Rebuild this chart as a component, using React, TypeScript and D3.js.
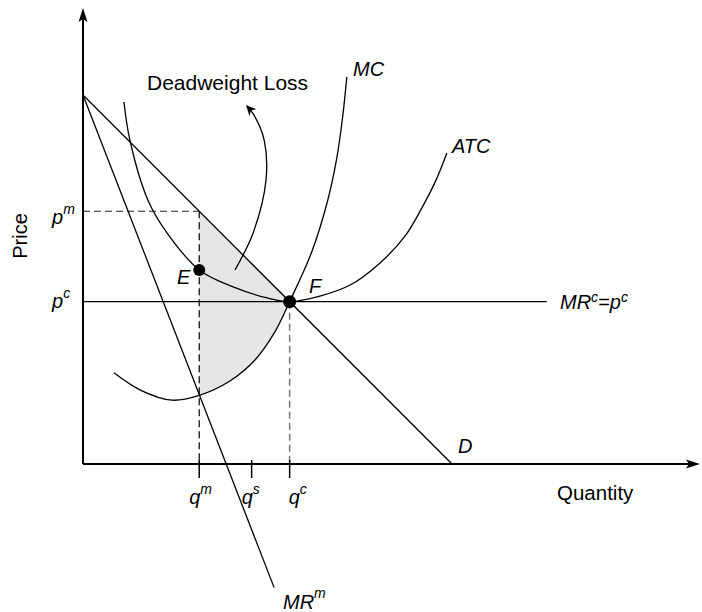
import React from 'react';
import * as d3 from 'd3';

const W = 702;
const H = 612;

// Economic quantities (model units)
const qm = 3.15;
const qs = 4.57;
const qc = 5.6;
const pm = 6.85;
const pc = 4.4;
const eP = 5.26;

const demandPts = [{ q: 0, p: 10 }, { q: 10, p: 0 }];
const mrPts = [{ q: 0, p: 10 }, { q: 5.18, p: -3.35 }];
const priceLinePts = [{ q: 0, p: pc }, { q: 12.57, p: pc }];

const mcPts = [
  { q: 0.84, p: 2.47 }, { q: 1.54, p: 2.01 }, { q: 2.41, p: 1.73 }, { q: 3.15, p: 1.86 },
  { q: 3.98, p: 2.25 }, { q: 4.66, p: 2.82 }, { q: 5.2, p: 3.58 }, { q: 5.6, p: 4.4 },
  { q: 6.2, p: 5.75 }, { q: 6.62, p: 7.1 }, { q: 6.87, p: 8.25 }, { q: 7.03, p: 9.35 },
  { q: 7.15, p: 10.49 },
];

const atcPts = [
  { q: 1.11, p: 9.81 }, { q: 1.27, p: 8.78 }, { q: 1.76, p: 7.15 }, { q: 2.28, p: 6.26 },
  { q: 3.15, p: 5.26 }, { q: 4.07, p: 4.8 }, { q: 4.99, p: 4.5 }, { q: 5.6, p: 4.4 },
  { q: 6.42, p: 4.55 }, { q: 7.24, p: 4.85 }, { q: 8.05, p: 5.45 }, { q: 8.73, p: 6.18 },
  { q: 9.21, p: 6.99 }, { q: 9.57, p: 7.7 }, { q: 9.86, p: 8.43 },
];

const dwlArrowPts = [
  { q: 4.12, p: 5.26 }, { q: 4.61, p: 6.26 }, { q: 4.96, p: 7.7 }, { q: 4.91, p: 8.78 },
  { q: 4.63, p: 9.46 }, { q: 4.44, p: 9.7 },
];

const qTicks = [
  { q: qm, label: 'q', sup: 'm' },
  { q: qs, label: 'q', sup: 's' },
  { q: qc, label: 'q', sup: 'c' },
];

const xAxisMax = 16.72;
const yAxisMax = 12.36;

export default function App() {
  const x = d3.scaleLinear().domain([0, 10]).range([83, 452]);
  const y = d3.scaleLinear().domain([0, 10]).range([464, 95]);

  const straight = d3.line<{ q: number; p: number }>().x(d => x(d.q)).y(d => y(d.p));
  const smooth = d3
    .line<{ q: number; p: number }>()
    .x(d => x(d.q))
    .y(d => y(d.p))
    .curve(d3.curveCatmullRom.alpha(0.5));

  const mcPath = smooth(mcPts) as string;
  const first = mcPts[0];
  const last = mcPts[mcPts.length - 1];
  const clipD = `${mcPath} L${x(last.q)},0 L${x(first.q)},0 Z`;

  const shadePts = [
    { q: qm, p: pm },
    { q: qc, p: pc },
    { q: qc, p: -2 },
    { q: qm, p: -2 },
  ];
  const shadeD = straight(shadePts) + 'Z';

  const x0 = x(0);
  const y0 = y(0);
  const xEnd = x(xAxisMax);
  const yTop = y(yAxisMax);

  const font = '"Liberation Sans", Arial, Helvetica, sans-serif';
  const fs = 20;
  const sfs = 14;

  return (
    <svg
      width={W}
      height={H}
      style={{ position: 'absolute', left: 0, top: 0, background: '#fff' }}
      fontFamily={font}
    >
      <defs>
        <clipPath id="aboveMC">
          <path d={clipD} />
        </clipPath>
        <marker id="arr" viewBox="0 0 10 10" refX="9" refY="5" markerWidth="10" markerHeight="10" orient="auto" markerUnits="userSpaceOnUse">
          <path d="M0,0 L10,5 L0,10 L3,5 Z" fill="#000" />
        </marker>
      </defs>

      {/* deadweight loss shading */}
      <path d={shadeD} fill="#e6e6e6" stroke="none" clipPath="url(#aboveMC)" />

      {/* dashed guides */}
      <line x1={x0} y1={y(pm)} x2={x(qm)} y2={y(pm)} stroke="#222" strokeWidth={1.2} strokeDasharray="7,4" />
      <line x1={x(qm)} y1={y(pm)} x2={x(qm)} y2={y0} stroke="#111" strokeWidth={1.3} strokeDasharray="7,4" />
      <line x1={x(qc)} y1={y(pc)} x2={x(qc)} y2={y0} stroke="#777" strokeWidth={1.5} strokeDasharray="7,4" />

      {/* price line MR^c = p^c */}
      <path d={straight(priceLinePts) as string} fill="none" stroke="#000" strokeWidth={1.3} />

      {/* demand and MR */}
      <path d={straight(demandPts) as string} fill="none" stroke="#000" strokeWidth={1.3} />
      <path d={straight(mrPts) as string} fill="none" stroke="#000" strokeWidth={1.3} />

      {/* cost curves */}
      <path d={mcPath} fill="none" stroke="#000" strokeWidth={1.3} />
      <path d={smooth(atcPts) as string} fill="none" stroke="#000" strokeWidth={1.3} />

      {/* deadweight arrow */}
      <path d={smooth(dwlArrowPts) as string} fill="none" stroke="#000" strokeWidth={1.3} markerEnd="url(#arr)" />

      {/* axes */}
      <line x1={x0} y1={y0} x2={xEnd - 6} y2={y0} stroke="#000" strokeWidth={2} />
      <line x1={x0} y1={y0} x2={x0} y2={yTop + 6} stroke="#000" strokeWidth={2} />
      <path d={`M${x0},${yTop} L${x0 + 4.5},${yTop + 14} L${x0},${yTop + 11} L${x0 - 4.5},${yTop + 14} Z`} fill="#000" />
      <path d={`M${xEnd},${y0} L${xEnd - 14},${y0 + 4.5} L${xEnd - 11},${y0} L${xEnd - 14},${y0 - 4.5} Z`} fill="#000" />

      {/* ticks */}
      {qTicks.map(t => (
        <line key={t.sup} x1={x(t.q)} y1={y0 - 4} x2={x(t.q)} y2={y0 + 14} stroke="#000" strokeWidth={1.5} />
      ))}

      {/* points */}
      <circle cx={x(qm)} cy={y(eP)} r={6} fill="#000" />
      <circle cx={x(qc)} cy={y(pc)} r={6.5} fill="#000" />

      {/* labels */}
      <text x={147} y={90} fontSize={21}>Deadweight Loss</text>
      <text transform="translate(27,236) rotate(-90)" textAnchor="middle" fontSize={fs}>Price</text>
      <text x={557} y={500} fontSize={20.5}>Quantity</text>

      <g fontStyle="italic" fontSize={fs}>
        <text x={353} y={76}>MC</text>
        <text x={452} y={153}>ATC</text>
        <text x={458} y={453}>D</text>
        <text x={177} y={284}>E</text>
        <text x={309} y={293}>F</text>
        <text x={560} y={309}>
          MR<tspan fontSize={sfs} dy={-7}>c</tspan>
          <tspan dy={7}>=p</tspan>
          <tspan fontSize={sfs} dy={-7}>c</tspan>
        </text>
        <text x={52} y={224}>
          p<tspan fontSize={sfs} dy={-10}>m</tspan>
        </text>
        <text x={52} y={308}>
          p<tspan fontSize={sfs} dy={-10}>c</tspan>
        </text>
        {qTicks.map(t => (
          <text key={'l' + t.sup} x={x(t.q) + (t.sup === 'c' ? -1 : -10)} y={504}>
            {t.label}
            <tspan fontSize={sfs} dy={-10}>{t.sup}</tspan>
          </text>
        ))}
        <text x={283} y={609}>
          MR<tspan fontSize={sfs} dy={-11}>m</tspan>
        </text>
      </g>
    </svg>
  );
}
